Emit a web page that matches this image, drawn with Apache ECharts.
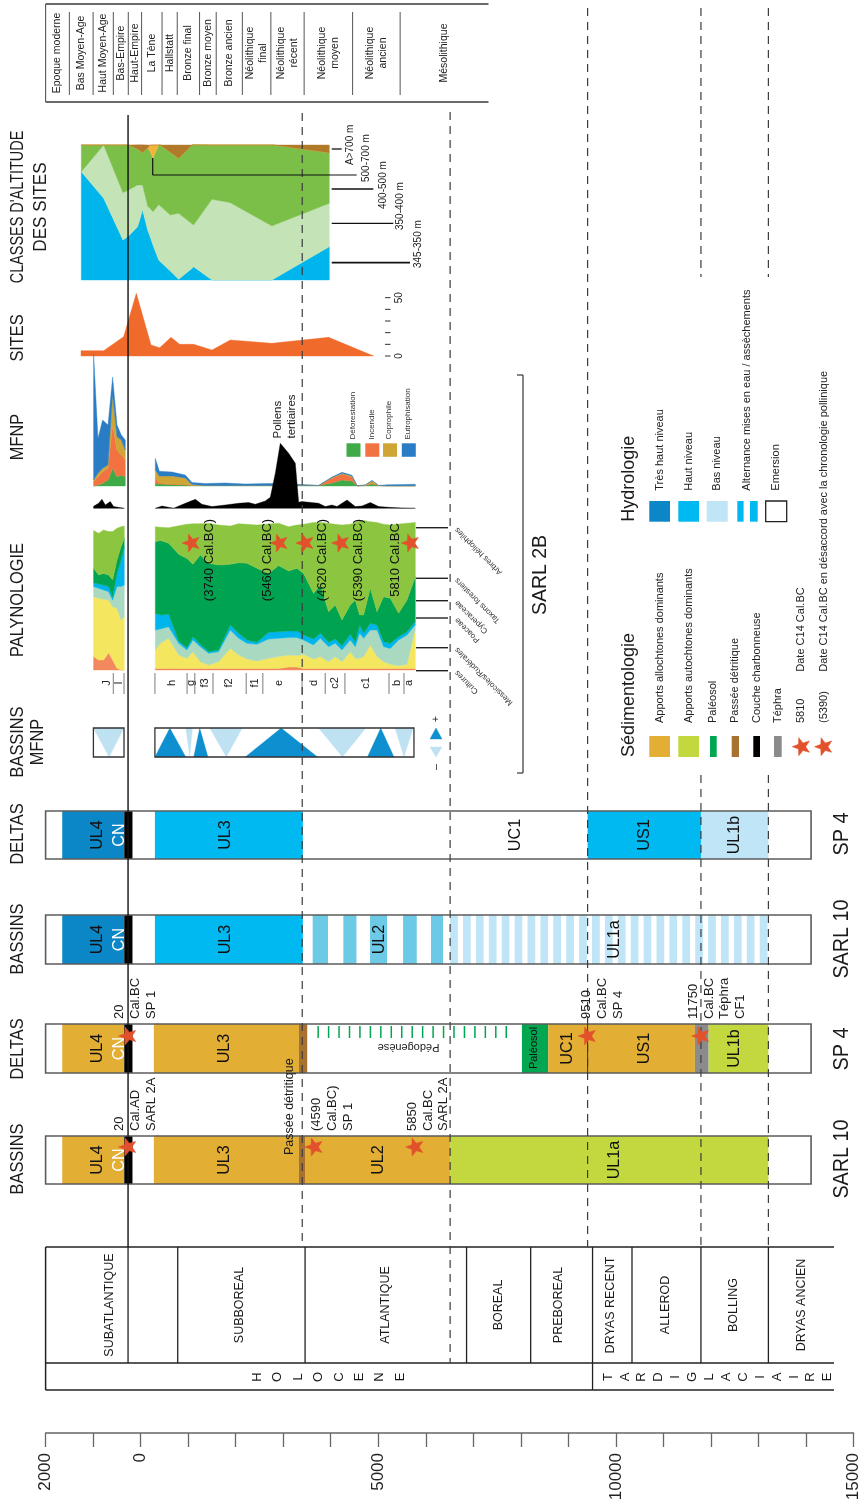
<!DOCTYPE html>
<html>
<head>
<meta charset="utf-8">
<title>Chronologie SARL</title>
<script src="https://cdn.jsdelivr.net/npm/echarts@6/dist/echarts.min.js"></script>
<style>
html,body{margin:0;padding:0;background:#fff;}
#chart{width:862px;height:1507px;}
</style>
</head>
<body>
<div id="chart"></div>
<script>
// ===================== DATA (years BC; negative = AD) =====================
const timeMin = -2000, timeMax = 15000, timeStep = 1000;
const timeLabelYears = [-2000, 0, 5000, 10000, 15000];

const periodNames = ['Epoque moderne','Bas Moyen-Age','Haut Moyen-Age','Bas-Empire','Haut-Empire','La Tène','Hallstatt','Bronze final','Bronze moyen','Bronze ancien','Néolithique\nfinal','Néolithique\nrécent','Néolithique\nmoyen','Néolithique\nancien','Mésolithique'];
const periodBounds = [-2000,-1500,-1000,-575,-260,20,450,770,1240,1590,2140,2740,3440,4460,5460,7320];

const chronoNames = ['SUBATLANTIQUE','','SUBBOREAL','ATLANTIQUE','','BOREAL','PREBOREAL','DRYAS RECENT','ALLEROD','BOLLING','DRYAS ANCIEN'];
const chronoBounds = [-2000,-265,780,3460,6512,6858,8207,9509,10339,11790,13209,14590];
const chronoLabelYears = [-644,null,2080,5145,null,7527,8790,9880,11055,12480,13900];
const epochNames = ['HOLOCENE','TARDIGLACIAIRE'];
const epochBounds = [-2000,9509,14590];
const epochLabelYears = [3960,12147];

const guideYears = [-265,3400,6512,9405,11790,13209];

// Classes d'altitude des sites (% stacked)
const altYears = [-1252,-783,-378,-260,-71,34,139,195,251,370,405,614,789,1068,1103,1488,1872,2746,2781,3948];
const alt345 = [80.2,60.5,29.6,32.6,39.5,51.9,37,31.6,25.9,14.8,13.6,6.7,0.5,8.6,9.9,0,0,0,0.7,24.7];
const alt350 = [0,39.5,35.1,34.1,30.9,18.5,17.8,21.2,24.7,41,41.2,41.5,48.9,33.1,30.9,59.8,57.3,40,39.8,32.1];
const alt400 = [19.8,0,35.3,33.3,26.7,24,43.2,42.2,39.5,44.2,45.2,46.4,40.7,58.3,59.3,40.2,42.7,60,59.5,37.5];
const alt500 = [0,0,0,0,0,0,0,4.9,9.9,0,0,0,0,0,0,0,0,0,0,0];
const alt700 = [0,0,0,0,3,5.7,2,0,0,0,0,5.4,9.9,0,0,0,0,0,0,5.7];

// Sites (count)
const siteYears = [-1258,-783,-364,-98,210,392,629,810,1103,1488,1872,2746,3934,4877];
const siteCounts = [4.6,4.6,16.6,53.7,9.4,7.1,16,10,10,5.1,13.7,10.9,16,0];

// MFNP indicators
const mfnpLeftYears = [-994,-902,-805,-692,-595,-503,-413,-329];
const mfnpLeftDefor = [0,1,2.7,6,17.7,9.3,11,9.3];
const mfnpLeftIncendie = [4.3,8.3,11.6,11.7,43.3,26.7,20,16.7];
const mfnpLeftCopro = [1.7,3.4,3.4,3.3,30,13.3,15,10];
const mfnpLeftEutro = [126.7,35,48.3,40,18,11.7,5,10];
const mfnpRightYears = [300,384,650,929,1069,1348,1767,2187,2606,3025,3375,3724,4004,4214,4423,4528,4702,4843,4982,5157,5472,5751];
const mfnpRightDefor = [3,2,1.5,1,0.5,0.5,0.5,0.5,0.5,0.5,0.8,0.5,3,6,5,0.3,0.5,2,0.5,0.3,0.3,0.3];
const mfnpRightIncendie = [5,1,0.5,0.5,0,0,0,0,0,0,0,0,5,6,4,0,0,1,0,0,0,0];
const mfnpRightCopro = [8,7,8,6.5,1,0,0,0,0,0,0,0,0.5,0.7,1,0,0.5,2.3,0,0,0,0];
const mfnpRightEutro = [11.7,4.7,4,3,2,2,2.5,1.5,2,2,0.5,0,0.5,1,0.7,0,0,0.3,0,1,1.2,1.5];

// Pollens tertiaires (black curve)
const blackLeftYears = [-994,-889,-818,-748,-644,-574,-350];
const blackLeftVals = [2,5,9,3.3,6.7,1.7,0];
const blackRightYears = [300,440,684,929,1138,1278,1488,1767,2046,2256,2396,2606,2711,2816,2920,3095,3235,3305,3375,3724,3864,4004,4109,4319,4493,4633,4808,4982,5191,5472,5751];
const blackRightVals = [0,2.3,0,5,9,4,1.7,3.3,5,5.7,4,7.3,11,35,65,55,45,6,6.7,5,1.7,3.3,1.7,8.3,1.7,2.3,5.7,1.7,1,0.3,0];

// Palynologie (% per taxon group)
const palLeftYears = [-994,-889,-784,-679,-595,-503,-419,-350];
const palLeftCultures = [9.3,6.9,6.9,12,6.9,1.2,0,0];
const palLeftMessicoles = [41.6,42.9,42.2,36.6,37.1,41.6,34.7,37];
const palLeftPoaceae = [7,6.9,6.5,5.8,4.6,15.1,23.2,22];
const palLeftCyperaceae = [2.7,3,3.4,3.5,2.3,9.2,18.5,26.6];
const palLeftForest = [10,6.3,8.1,8.1,11.6,9.3,9.2,5.8];
const palLeftHelio = [26.2,28.9,30.1,30.1,33.6,22,13.9,8.6];
const palRightYears = [300,405,580,790,964,1090,1243,1418,1627,1872,2046,2222,2432,2675,2885,3094,3270,3409,3618,3759,3933,4073,4214,4388,4493,4583,4667,4807,4948,5086,5226,5401,5577,5751];
const palRightCultures = [1,1,1,1,1,1,1,1,1,1,1,1,1,1,1,2,2,1,1,1,1,1,1,1,1,1,1,1,1,1,1,1,1,1];
const palRightMessicoles = [12.9,17.5,21,9.4,7.1,11.7,4.8,2.5,4.8,14,9.4,6.6,5.25,7.1,8.3,8.4,8,9.9,6.6,8.3,4.8,8.3,4.8,11.7,7.1,7.1,8.3,16.4,8.3,4.8,3,2,3,27.9];
const palRightPoaceae = [13.9,10,8.1,8.1,5.8,8.1,10.4,8.1,6.9,12.8,11.6,10.9,11.55,13.4,12.7,12.1,12.5,9.9,9.8,12.7,10.4,9.2,8.1,8.1,8.1,17.4,12.7,10.4,18.5,10.4,11,17.8,20.3,2.4];
const palRightCyperaceae = [11.6,9.7,8.6,1.6,1.6,2.3,1.6,1.1,1.2,3.5,3.5,2.3,1.4,4.7,4.6,4.6,4.6,3.5,4.1,3.5,3,3,3,4,3,5.8,3.5,4.6,3.5,3.5,3.5,2.3,2.3,2.3];
const palRightForest = [49.7,51.8,49.3,60.2,62,50.3,62.1,61.4,59,42.1,49,53.3,51.4,40.9,45.9,41.7,43.5,42.8,31.7,33.5,21.3,23.6,17.8,20.3,29.4,6.9,12.7,24.3,9.2,31.2,31.3,16.3,22,31.2];
const palRightHelio = [10.4,9.1,10.8,19.9,23.7,28.2,21.7,27.8,27.8,26.6,27.1,27.1,30.1,34.3,29.4,30.7,30.1,34.1,49.3,43.5,61.4,56.1,66,56.1,53.9,65.3,65.7,46.3,62,50.3,50.9,62,53.3,37.7];
const taxaNames = ['Arbres héliophiles','Taxons forestiers','Cyperaceae','Poaceae','Messicoles/Rudérales','Cultures'];

// Palynological zones
const zoneNames = ['J','I','h','g','f3','f2','f1','e','d','c2','c1','b','a'];
const zoneLabelYears = [-713,-449,650,1055,1348,1851,2396,2920,3654,4094,4738,5401,5646];
const zoneBoundYears = [-574,-350,300,977,1138,1522,2222,2570,3396,3885,4298,5226,5541];

// C14 dates on the pollen diagram
const palStarYears = [1069,2920,3465,4214,5681];
const palDateTexts = ['(3740 Cal.BC)','(5460 Cal.BC)','(4620 Cal.BC)','(5390 Cal.BC)','5810 Cal.BC'];
const palDateYears = [1453,2675,3828,4583,5367];

// Bassins MFNP (+ / - triangles): [start, apex, end, sign]
const mfnpBoxes = [[-994,-350],[300,5751]];
const mfnpTriangles = [[-994,-664,-350,'-'],[950,1034,1090,'-'],[1453,1803,2138,'-'],[3744,4247,4738,'-'],[5352,5541,5736,'-'],
  [300,614,950,'+'],[1117,1243,1417,'+'],[2201,2956,3723,'+'],[4772,5052,5331,'+']];

// Hydrologie / Sédimentologie columns: [from, to, class]
const barFrame = [-2000,14107];
const hydroDeltasSegs = [[-1650,-345,'tres'],[-345,-172,'cn'],[300,3413,'haut'],[9405,11790,'haut'],[11790,13209,'bas']];
const hydroDeltasLabels = [['UL4',-905],['CN',-444],['UL3',1775],['UC1',7885],['US1',10594],['UL1b',12495]];
const hydroBassinsSegs = [[-1650,-345,'tres'],[-345,-172,'cn'],[300,3413,'haut'],[3620,3943,'alt'],[4265,4541,'alt'],[4827,5185,'alt'],[5522,5810,'alt'],[6109,6363,'alt'],[6512,13209,'basStripe']];
const hydroBassinsLabels = [['UL4',-905],['CN',-444],['UL3',1775],['UL2',5025],['UL1a',9958]];
const sedDeltasSegs = [[-1650,-345,'allo'],[-345,-172,'cn'],[278,3331,'allo'],[3331,3505,'det'],[8023,8576,'paleo'],[8576,11663,'allo'],[11663,11952,'tephra'],[11952,13209,'auto']];
const sedDeltasLabels = [['UL4',-905],['CN',-444],['UL3',1770],['UC1',8980],['US1',10594],['UL1b',12495]];
const sedDeltasInnerLine = [9405];
const sedDeltasStars = [-265,9405,11790];
const sedDeltasDates = [[-438,'20\nCal.BC\nSP 1'],[9382,'9510\nCal.BC\nSP 4'],[11629,'11750\nCal.BC\nTéphra\nCF1']];
const pedogeneseRange = [3735,7826];
const pedogeneseLabelYear = 5637;
const paleosolLabelYear = 8280;
const sedBassinsSegs = [[-1650,-345,'allo'],[-345,-172,'cn'],[278,3331,'allo'],[3331,3459,'det'],[3459,6512,'allo'],[6512,13209,'auto']];
const sedBassinsLabels = [['UL4',-905],['CN',-444],['UL3',1770],['UL2',5000],['UL1a',9958]];
const sedBassinsStars = [-265,3654,5775];
const sedBassinsDates = [[-438,'20\nCal.AD\nSARL 2A'],[3700,'(4590\nCal.BC)\nSP 1'],[5717,'5850\nCal.BC\nSARL 2A']];
const detritiqueLabelYear = 3136;

// ===================== STYLE =====================
const FONT = "'Liberation Sans', Arial, Helvetica, sans-serif";
const RQ = Math.PI / 2;
const COL = {
  tres:'#0b86c6', haut:'#00b9f1', bas:'#bfe5f6', alt:'#6dcae6', basStripe:'#bfe5f6',
  allo:'#e2ae34', auto:'#c3d83e', paleo:'#00a650', det:'#a87130', cn:'#000000', tephra:'#8b8b8b',
  star:'#e2512b'
};
const palColors = ['#f3875d','#f4e65e','#a9d9c0','#00b5eb','#00a34f','#8cc640'];
const mfnpColors = ['#3faa48','#f27241','#cfa535','#2a7dc5'];
const altColors = ['#00b5eb','#c4e3b6','#7bbf48','#f6b33c','#b07a2a'];

function T(x, y, text, size, o) {
  o = o || {};
  const al = o.align || 'center', va = o.va || 'middle';
  const el = {
    type:'text', x:x, y:y, rotation: o.rot === undefined ? RQ : o.rot, silent:true,
    style:{ text:text, fill:o.color || '#1b1b1b', font:(o.weight || 'normal') + ' ' + size + 'px ' + FONT,
      align:al, textAlign:al, verticalAlign:va, textVerticalAlign:va }
  };
  if (o.lh) el.style.lineHeight = o.lh;
  if (o.sx) el.scaleX = o.sx;
  if (o.z) el.z = o.z;
  return el;
}
function L(x1, y1, x2, y2, color, w, dash) {
  const s = { stroke: color || '#222', lineWidth: w || 1 };
  if (dash) s.lineDash = dash;
  return { type:'line', shape:{x1:x1, y1:y1, x2:x2, y2:y2}, style:s, silent:true };
}
function Rc(x, y, w, h, fill, stroke, lw) {
  return { type:'rect', shape:{x:x, y:y, width:w, height:h}, style:{fill:fill || 'none', stroke:stroke || 'none', lineWidth:lw || 0}, silent:true };
}
function Pg(points, fill, stroke, lw) {
  return { type:'polygon', shape:{points:points}, style:{fill:fill, stroke:stroke || fill, lineWidth:lw === undefined ? 0.5 : lw}, silent:true };
}
function starPts(cx, cy, R, r) {
  const p = [];
  for (let k = 0; k < 10; k++) {
    const a = Math.PI + k * Math.PI / 5, rad = (k % 2) ? r : R;
    p.push([cx + rad * Math.cos(a), cy + rad * Math.sin(a)]);
  }
  return p;
}
function star(cx, cy) { return Pg(starPts(cx, cy, 9.5, 4), COL.star, COL.star, 0.5); }

// ===================== GRIDS =====================
const GL = 45.6, GR = 862 - 856.5;
const gridDefs = [
  {top:0, height:1433, ymax:1433, inverse:true},   // 0 main (pixel rows)
  {top:145, height:135, ymax:100},                 // 1 altitude classes
  {top:286, height:70, ymax:60},                   // 2 sites
  {top:336, height:150, ymax:150},                 // 3 MFNP indicators
  {top:428.3, height:80, ymax:80},                 // 4 pollens tertiaires
  {top:518.8, height:151.2, ymax:105}              // 5 palynologie
];
const grids = gridDefs.map(g => ({left:GL, right:GR, top:g.top, height:g.height, containLabel:false}));
const xAxes = gridDefs.map((g, i) => ({
  type:'value', gridIndex:i, min:timeMin, max:timeMax, interval:timeStep, show: i === 0,
  position:'bottom',
  axisLine:{show:true, onZero:false, lineStyle:{color:'#666', width:1.5}},
  axisTick:{show:true, length:14, lineStyle:{color:'#666', width:1.3}},
  axisLabel:{show:true, rotate:90, margin:20, fontSize:17, color:'#222', fontFamily:FONT,
    showMinLabel:true, showMaxLabel:true,
    formatter: v => timeLabelYears.indexOf(v) >= 0 ? String(Math.abs(v)) : ''},
  splitLine:{show:false}
}));
const yAxes = gridDefs.map((g, i) => ({type:'value', gridIndex:i, min:0, max:g.ymax, inverse:!!g.inverse, show:false}));

function stackSeries(gi, years, layers, colors) {
  return {
    type:'custom', xAxisIndex:gi, yAxisIndex:gi, z:2, silent:true, data:[[years[0], 0]],
    renderItem: function (params, api) {
      const ch = [];
      const base = years.map(() => 0);
      layers.forEach((vals, li) => {
        const top = base.map((b, i) => b + vals[i]);
        const pts = [];
        years.forEach((yr, i) => pts.push(api.coord([yr, top[i]])));
        for (let i = years.length - 1; i >= 0; i--) pts.push(api.coord([years[i], base[i]]));
        ch.push(Pg(pts, colors[li], colors[li], 0.4));
        top.forEach((t, i) => { base[i] = t; });
      });
      return {type:'group', children:ch};
    }
  };
}
function mainSeries(z, build) {
  return {
    type:'custom', xAxisIndex:0, yAxisIndex:0, z:z, silent:true, data:[[0, 0]],
    renderItem: function (params, api) {
      const X = yr => api.coord([yr, 0])[0];
      return {type:'group', children:build(X, api)};
    }
  };
}

// ---------- bars ----------
function barShapes(X, segs, y0, y1) {
  const ch = [];
  const xa = X(barFrame[0]), xb = X(barFrame[1]);
  ch.push(Rc(xa, y0, xb - xa, y1 - y0, '#fff'));
  segs.forEach(s => {
    const x0 = X(s[0]), x1 = X(s[1]);
    if (s[2] === 'basStripe') {
      for (let x = x0; x < x1; x += 12.9) ch.push(Rc(x, y0, Math.min(7.7, x1 - x), y1 - y0, COL.basStripe));
    } else ch.push(Rc(x0, y0, x1 - x0, y1 - y0, COL[s[2]]));
  });
  ch.push(Rc(xa, y0, xb - xa, y1 - y0, 'none', '#5c5c5c', 1.6));
  return ch;
}
function barLabels(X, labels, y0, y1) {
  return labels.map(l => T(X(l[1]), (y0 + y1) / 2, l[0], 17, {color: l[0] === 'CN' ? '#ffffff' : '#111', sx:0.95}));
}
function dateLabels(X, dates, yBottom) {
  return dates.map(d => T(X(d[0]) - 7.8, yBottom, d[1], 13, {align:'left', va:'top', lh:15.7}));
}

const HYD_D = [811, 859], HYD_B = [915, 964], SED_D = [1024, 1073], SED_B = [1136, 1184];

function buildStructure(X) {
  const ch = [];
  // periods box
  const pa = X(periodBounds[0]), pb = X(periodBounds[periodBounds.length - 1]);
  ch.push(L(pa, 4, pb, 4, '#6a6a6a', 1.8), L(pa, 102, pb, 102, '#6a6a6a', 1.8), L(pa, 4, pa, 102, '#555', 1.1));
  for (let i = 1; i < periodBounds.length - 1; i++) ch.push(L(X(periodBounds[i]), 12, X(periodBounds[i]), 95, '#555', 1));
  // chronozones
  const ca = X(chronoBounds[0]), cb = X(chronoBounds[chronoBounds.length - 1]);
  ch.push(L(ca, 1247, cb, 1247, '#222', 1.5), L(ca, 1363, cb, 1363, '#222', 1.5), L(ca, 1390, cb, 1390, '#222', 1.5), L(ca, 1247, ca, 1390, '#222', 1.5));
  chronoBounds.slice(1, -1).forEach(b => { if (b !== 6512) ch.push(L(X(b), 1247, X(b), 1363, '#222', 1.3)); });
  ch.push(L(X(epochBounds[1]), 1363, X(epochBounds[1]), 1390, '#222', 1.3));
  // bars
  ch.push(...barShapes(X, hydroDeltasSegs, HYD_D[0], HYD_D[1]));
  ch.push(...barShapes(X, hydroBassinsSegs, HYD_B[0], HYD_B[1]));
  ch.push(...barShapes(X, sedDeltasSegs, SED_D[0], SED_D[1]));
  sedDeltasInnerLine.forEach(yr => ch.push(L(X(yr), SED_D[0], X(yr), SED_D[1], '#333', 1)));
  // pédogenèse hatch
  for (let x = X(pedogeneseRange[0]); x <= X(pedogeneseRange[1]) + 0.1; x += 10.45) ch.push(L(x, 1026, x, 1038, '#00a650', 1.5));
  ch.push(...barShapes(X, sedBassinsSegs, SED_B[0], SED_B[1]));
  // bassins MFNP triangles
  mfnpBoxes.forEach(b => ch.push(Rc(X(b[0]), 728, X(b[1]) - X(b[0]), 29, '#fff')));
  mfnpTriangles.forEach(t => {
    if (t[3] === '-') ch.push(Pg([[X(t[0]), 728], [X(t[2]), 728], [X(t[1]), 757]], '#bfe2f2', '#bfe2f2', 0.3));
  });
  mfnpTriangles.forEach(t => {
    if (t[3] === '+') ch.push(Pg([[X(t[0]), 757], [X(t[2]), 757], [X(t[1]), 728]], '#0e8fcf', '#0e8fcf', 0.3));
  });
  mfnpBoxes.forEach(b => ch.push(Rc(X(b[0]), 728, X(b[1]) - X(b[0]), 29, 'none', '#333', 1.3)));
  // zone separators
  zoneBoundYears.forEach(yr => ch.push(L(X(yr), 673, X(yr), 694, '#999', 1.3)));
  return ch;
}

const guideSpans = [[[115, 1247]], [[113, 1247]], [[112, 1363]], [[8, 1247]], [[8, 277], [775, 1247]], [[8, 277], [775, 1247]]];
function buildGuides(X) {
  const ch = [];
  guideYears.forEach((yr, i) => {
    guideSpans[i].forEach(sp => {
      if (i === 0) ch.push(L(X(yr), sp[0], X(yr), sp[1], '#111', 1.4));
      else ch.push(L(X(yr), sp[0], X(yr), sp[1], '#3c3c3c', 1.2, [8, 6]));
    });
  });
  return ch;
}

function buildTexts(X) {
  const ch = [];
  // periods
  periodNames.forEach((n, i) => ch.push(T((X(periodBounds[i]) + X(periodBounds[i + 1])) / 2, 53, n, 10.5, {lh:12.5, color:'#222'})));
  // chronozones
  chronoNames.forEach((n, i) => { if (n) ch.push(T(X(chronoLabelYears[i]), 1305, n, 12.5, {color:'#1a1a1a'})); });
  // epochs, letter by letter
  const spacing = [20.4, 16.9];
  epochNames.forEach((n, e) => {
    const c = X(epochLabelYears[e]);
    for (let k = 0; k < n.length; k++) ch.push(T(c + (k - (n.length - 1) / 2) * spacing[e], 1377, n[k], 13, {color:'#1a1a1a'}));
  });
  // bar labels
  ch.push(...barLabels(X, hydroDeltasLabels, HYD_D[0], HYD_D[1]));
  ch.push(...barLabels(X, hydroBassinsLabels, HYD_B[0], HYD_B[1]));
  ch.push(...barLabels(X, sedDeltasLabels, SED_D[0], SED_D[1]));
  ch.push(...barLabels(X, sedBassinsLabels, SED_B[0], SED_B[1]));
  ch.push(T(X(pedogeneseLabelYear), 1047, 'Pédogenèse', 11, {rot:Math.PI}));
  ch.push(T(X(paleosolLabelYear), 1048, 'Paléosol', 11, {color:'#111'}));
  ch.push(T(X(detritiqueLabelYear), 1155, 'Passée détritique', 12.5, {align:'left'}));
  // stars
  sedDeltasStars.forEach(yr => ch.push(star(X(yr), 1036)));
  sedBassinsStars.forEach(yr => ch.push(star(X(yr), 1147)));
  palStarYears.forEach(yr => ch.push(star(X(yr), 543)));
  // dates
  ch.push(...dateLabels(X, sedDeltasDates, 1019));
  ch.push(...dateLabels(X, sedBassinsDates, 1131));
  palDateTexts.forEach((t, i) => ch.push(T(X(palDateYears[i]), 560, t, 13, {color:'#111'})));
  // zones
  zoneNames.forEach((n, i) => ch.push(T(X(zoneLabelYears[i]), 683, n, 11, {color:'#222'})));
  return ch;
}

// sites scale (inside sites grid)
const sitesScale = {
  type:'custom', xAxisIndex:2, yAxisIndex:2, z:3, silent:true, data:[[0, 0]],
  renderItem: function (params, api) {
    const ch = [];
    [0, 10, 20, 30, 40, 50].forEach(v => { const y = api.coord([0, v])[1]; ch.push(L(385, y, 390.5, y, '#333', 1)); });
    ch.push(T(399.5, api.coord([0, 0])[1], '0', 10, {}));
    ch.push(T(399.5, api.coord([0, 50])[1], '50', 10, {}));
    return {type:'group', children:ch};
  }
};

// ===================== GRAPHIC (headers, legends) =====================
const G = [];
function gT(x, y, text, size, o) { const e = T(x, y, text, size, o); e.z = 100; return e; }
function gL(x1, y1, x2, y2, c, w) { const e = L(x1, y1, x2, y2, c, w); e.z = 100; return e; }
function gR(x, y, w, h, f, s, lw) { const e = Rc(x, y, w, h, f, s, lw); e.z = 100; return e; }
function gP(pts, f) { const e = Pg(pts, f, f, 0.4); e.z = 100; return e; }
// left headers
const HS = 19, HX = 0.86;
G.push(gT(18, 207, "CLASSES D'ALTITUDE", HS, {sx:0.76}));
G.push(gT(41, 207, 'DES SITES', HS, {sx:0.9}));
G.push(gT(18, 338, 'SITES', HS, {sx:HX}));
G.push(gT(18, 437, 'MFNP', HS, {sx:HX}));
G.push(gT(18, 600, 'PALYNOLOGIE', HS, {sx:HX}));
G.push(gT(18, 742, 'BASSINS', HS, {sx:HX}));
G.push(gT(38, 742, 'MFNP', HS, {sx:HX}));
G.push(gT(18, 834, 'DELTAS', HS, {sx:HX}));
G.push(gT(18, 939, 'BASSINS', HS, {sx:HX}));
G.push(gT(18, 1049, 'DELTAS', HS, {sx:HX}));
G.push(gT(18, 1159, 'BASSINS', HS, {sx:HX}));
// right column names
G.push(gT(842, 834, 'SP 4', 22, {sx:0.9}));
G.push(gT(842, 939, 'SARL 10', 22, {sx:0.9}));
G.push(gT(842, 1049, 'SP 4', 22, {sx:0.9}));
G.push(gT(842, 1159, 'SARL 10', 22, {sx:0.9}));
// altitude class labels
G.push(gL(331.7, 149, 341.7, 149, '#111', 1.3));
G.push(gT(350, 165, 'A>700 m', 10, {align:'left'}));
G.push(gL(152.7, 158, 152.7, 175, '#111', 1.2));
G.push(gL(152.7, 175, 356.7, 175, '#111', 1.2));
G.push(gT(366, 182, '500-700 m', 10, {align:'left'}));
G.push(gL(331.7, 189, 373.3, 189, '#111', 1.5));
G.push(gT(383.3, 209, '400-500 m', 10, {align:'left'}));
G.push(gL(331.7, 223.3, 393.3, 223.3, '#111', 1.3));
G.push(gT(400, 230, '350-400 m', 10, {align:'left'}));
G.push(gL(331.7, 262.7, 410, 262.7, '#111', 1.8));
G.push(gT(418.3, 268, '345-350 m', 10, {align:'left'}));
// MFNP legend
const mfnpLegend = ['Déforestation','Incendie','Coprophile','Eutrophisation'];
const mfnpLegX = [346.5, 365.3, 383, 401.8];
mfnpLegend.forEach((n, i) => {
  G.push(gR(mfnpLegX[i], 443.3, 14, 13.5, mfnpColors[i]));
  G.push(gT(mfnpLegX[i] + 6, 439.5, n, 8, {align:'left', color:'#333'}));
});
G.push(gT(284.7, 438.5, 'Pollens\ntertiaires', 11.5, {align:'left', lh:14}));
// taxa labels
const taxaLeaderY = [527.7, 578.3, 600.7, 618, 647.7, 670.7];
taxaNames.forEach((n, i) => {
  G.push(gL(416, taxaLeaderY[i], 448, taxaLeaderY[i], '#222', 1.4));
  G.push(gT(456, taxaLeaderY[i] + 1, n, 8, {rot:3 * Math.PI / 4, align:'right', color:'#333'}));
});
// triangles legend
G.push(gT(436, 719, '+', 11, {}));
G.push(gP([[430, 739], [442, 739], [436, 728]], '#0e8fcf'));
G.push(gP([[430, 747], [442, 747], [436, 757]], '#bfe2f2'));
G.push(gT(436, 767, '\u2013', 11, {}));
// SARL 2B bracket
G.push(gT(541, 575, 'SARL 2B', 19.5, {}));
G.push(gL(523, 375, 523, 773, '#444', 1.3));
G.push(gL(517, 375, 523, 375, '#444', 1.3));
G.push(gL(517, 773, 523, 773, '#444', 1.3));
// Sédimentologie legend
G.push(gT(629.3, 757, 'Sédimentologie', 18, {align:'left'}));
const sedLeg = [['Apports allochtones dominants', COL.allo, 649.3, 20.7], ['Apports autochtones dominants', COL.auto, 678.3, 20.7],
  ['Paléosol', COL.paleo, 710, 6.7], ['Passée détritique', COL.det, 731.7, 7.3], ['Couche charbonneuse', COL.cn, 753.3, 6.7], ['Téphra', COL.tephra, 774, 7.7]];
sedLeg.forEach(s => {
  G.push(gR(s[2], 736, s[3], 21, s[1]));
  G.push(gT(s[2] + s[3] / 2, 723, s[0], 11, {align:'left', color:'#222'}));
});
[801.7, 824].forEach(x => { const e = star(x, 746.7); e.z = 100; G.push(e); });
G.push(gT(801, 723, '5810', 11, {align:'left', color:'#222'}));
G.push(gT(801, 671.7, 'Date C14 Cal.BC', 11, {align:'left', color:'#222'}));
G.push(gT(823.5, 723, '(5390)', 11, {align:'left', color:'#222'}));
G.push(gT(823.5, 671.7, 'Date C14 Cal.BC en désaccord avec la chronologie pollinique', 11, {align:'left', color:'#222'}));
// Hydrologie legend
G.push(gT(629.3, 521.7, 'Hydrologie', 18, {align:'left'}));
G.push(gR(649.3, 501, 20.7, 20.7, COL.tres));
G.push(gR(678.3, 501, 20.7, 20.7, COL.haut));
G.push(gR(706.7, 501, 21, 20.7, COL.bas));
G.push(gR(737.3, 501, 6.3, 20.7, COL.haut));
G.push(gR(750, 501, 7.7, 20.7, COL.haut));
G.push(gR(765.7, 501, 21, 20.7, '#fff', '#222', 1.3));
[['Très haut niveau', 660], ['Haut niveau', 688.5], ['Bas niveau', 717], ['Alternance mises en eau / assèchements', 747], ['Emersion', 776]]
  .forEach(h => G.push(gT(h[1], 490.7, h[0], 11, {align:'left', color:'#222'})));

// ===================== OPTION =====================
const option = {
  animation:false,
  backgroundColor:'#ffffff',
  grid:grids, xAxis:xAxes, yAxis:yAxes,
  series:[
    stackSeries(1, altYears, [alt345, alt350, alt400, alt500, alt700], altColors),
    stackSeries(2, siteYears, [siteCounts], ['#f06b2b']),
    sitesScale,
    stackSeries(3, mfnpLeftYears, [mfnpLeftDefor, mfnpLeftIncendie, mfnpLeftCopro, mfnpLeftEutro], mfnpColors),
    stackSeries(3, mfnpRightYears, [mfnpRightDefor, mfnpRightIncendie, mfnpRightCopro, mfnpRightEutro], mfnpColors),
    stackSeries(4, blackLeftYears, [blackLeftVals], ['#000']),
    stackSeries(4, blackRightYears, [blackRightVals], ['#000']),
    stackSeries(5, palLeftYears, [palLeftCultures, palLeftMessicoles, palLeftPoaceae, palLeftCyperaceae, palLeftForest, palLeftHelio], palColors),
    stackSeries(5, palRightYears, [palRightCultures, palRightMessicoles, palRightPoaceae, palRightCyperaceae, palRightForest, palRightHelio], palColors),
    mainSeries(3, buildStructure),
    mainSeries(8, buildGuides),
    mainSeries(10, buildTexts)
  ],
  graphic:{elements:G}
};
const chart = echarts.init(document.getElementById('chart'), null, {renderer:'canvas', width:862, height:1507});
chart.setOption(option);
</script>
</body>
</html>
